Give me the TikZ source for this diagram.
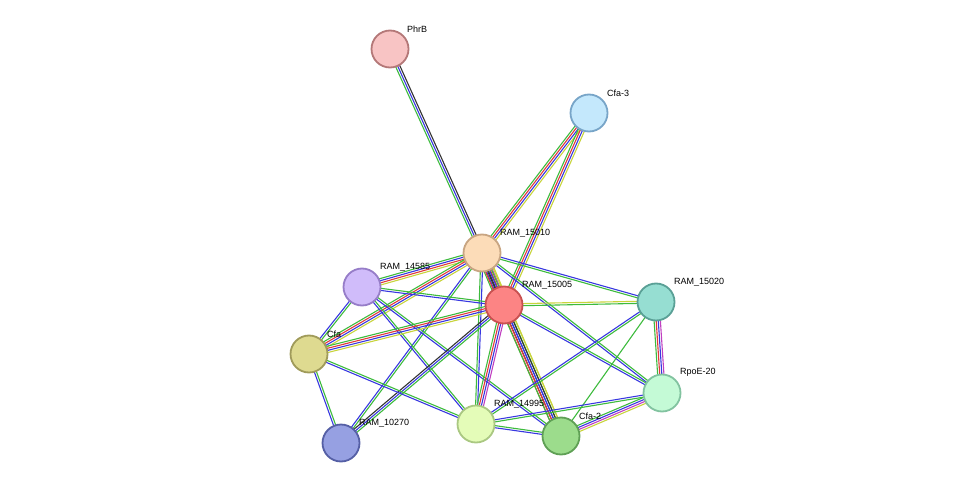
\documentclass[tikz,border=0pt]{standalone}
\usepackage{fontspec}
\setmainfont{Liberation Sans}
\usetikzlibrary{calc,backgrounds}
\definecolor{cg}{HTML}{3DBB3D}
\definecolor{cb}{HTML}{3838E0}
\definecolor{ck}{HTML}{333333}
\definecolor{cr}{HTML}{E03A3A}
\definecolor{cy}{HTML}{C8D43C}
\definecolor{cp}{HTML}{C040C0}
\newcommand\edg[4]{%
  \foreach \c [count=\i] in {#4} {%
    \pgfmathsetmacro\o{(\i-(#3+1)/2)*2.1}%
    \draw[\c,line width=1.1pt] ($(#1.center)!\o pt!90:(#2.center)$) -- ($(#2.center)!\o pt!-90:(#1.center)$);
  }}
\tikzset{
  prot/.style={circle,minimum size=37pt,inner sep=0pt,line width=1.8pt},
  lab/.style={font=\fontsize{9}{11}\selectfont,anchor=south west,inner sep=1pt}
}
\begin{document}
\begin{tikzpicture}[x=1pt,y=-1pt]
\useasboundingbox (0,0) rectangle (976,489);
\node[prot,fill={rgb,255:red,248;green,196;blue,196},draw={rgb,255:red,180;green,120;blue,120}] (phrb) at (390,49) {};
\node[prot,fill={rgb,255:red,196;green,232;blue,252},draw={rgb,255:red,120;green,165;blue,200}] (cfa3) at (589,113) {};
\node[prot,fill={rgb,255:red,252;green,220;blue,184},draw={rgb,255:red,200;green,165;blue,130}] (r15010) at (482,253) {};
\node[prot,fill={rgb,255:red,208;green,188;blue,250},draw={rgb,255:red,150;green,125;blue,200}] (r14585) at (362,287) {};
\node[prot,fill={rgb,255:red,252;green,132;blue,132},draw={rgb,255:red,200;green,80;blue,80}] (r15005) at (504,305) {};
\node[prot,fill={rgb,255:red,150;green,222;blue,210},draw={rgb,255:red,90;green,160;blue,150}] (r15020) at (656,302) {};
\node[prot,fill={rgb,255:red,222;green,218;blue,144},draw={rgb,255:red,160;green,155;blue,90}] (cfa) at (309,354) {};
\node[prot,fill={rgb,255:red,196;green,250;blue,214},draw={rgb,255:red,130;green,195;blue,160}] (rpoe) at (662,393) {};
\node[prot,fill={rgb,255:red,228;green,252;blue,184},draw={rgb,255:red,170;green,200;blue,130}] (r14995) at (476,424) {};
\node[prot,fill={rgb,255:red,156;green,220;blue,140},draw={rgb,255:red,95;green,160;blue,85}] (cfa2) at (561,436) {};
\node[prot,fill={rgb,255:red,150;green,160;blue,226},draw={rgb,255:red,85;green,95;blue,165}] (r10270) at (341,443) {};
\begin{scope}[on background layer]
\edg{phrb}{r15010}{3}{cg,cb,ck}
\edg{cfa3}{r15010}{4}{cg,cr,cb,cy}
\edg{cfa3}{r15005}{4}{cg,cr,cb,cy}
\edg{r15010}{r15005}{6}{cg,cb,ck,cr,cp,cy}
\edg{r15010}{r14585}{4}{cg,cb,cr,cy}
\edg{r15010}{cfa}{4}{cg,cr,cb,cy}
\edg{r15010}{r15020}{2}{cg,cb}
\edg{r15010}{rpoe}{2}{cb,cg}
\edg{r15010}{r14995}{2}{cg,cb}
\edg{r15010}{cfa2}{5}{cr,ck,cb,cg,cy}
\edg{r15010}{r10270}{2}{cb,cg}
\edg{r14585}{r15005}{2}{cb,cg}
\edg{r14585}{cfa}{2}{cb,cg}
\edg{r14585}{r14995}{2}{cb,cg}
\edg{r14585}{cfa2}{2}{cb,cg}
\edg{r15005}{cfa}{4}{cg,cr,cb,cy}
\edg{r15005}{r15020}{2}{cg,cy}
\edg{r15005}{rpoe}{2}{cb,cg}
\edg{r15005}{r14995}{4}{cg,cr,cb,cp}
\edg{r15005}{cfa2}{5}{cg,cr,cb,ck,cy}
\edg{r15005}{r10270}{3}{ck,cb,cg}
\edg{cfa}{r14995}{2}{cb,cg}
\edg{cfa}{r10270}{2}{cb,cg}
\edg{r15020}{rpoe}{4}{cg,cr,cb,cp}
\edg{r15020}{r14995}{2}{cb,cg}
\edg{r15020}{cfa2}{1}{cg}
\edg{rpoe}{r14995}{2}{cb,cg}
\edg{rpoe}{cfa2}{4}{cg,cb,cp,cy}
\edg{r14995}{cfa2}{2}{cb,cg}
\end{scope}
\node[lab] at (406,34) {PhrB};
\node[lab] at (606,98) {Cfa-3};
\node[lab] at (499,238) {RAM\_15010};
\node[lab] at (379,272) {RAM\_14585};
\node[lab] at (521,290) {RAM\_15005};
\node[lab] at (673,287) {RAM\_15020};
\node[lab] at (326,339) {Cfa};
\node[lab] at (679,378) {RpoE-20};
\node[lab] at (493,409) {RAM\_14995};
\node[lab] at (578,421) {Cfa-2};
\node[lab] at (358,428) {RAM\_10270};
\end{tikzpicture}
\end{document}
